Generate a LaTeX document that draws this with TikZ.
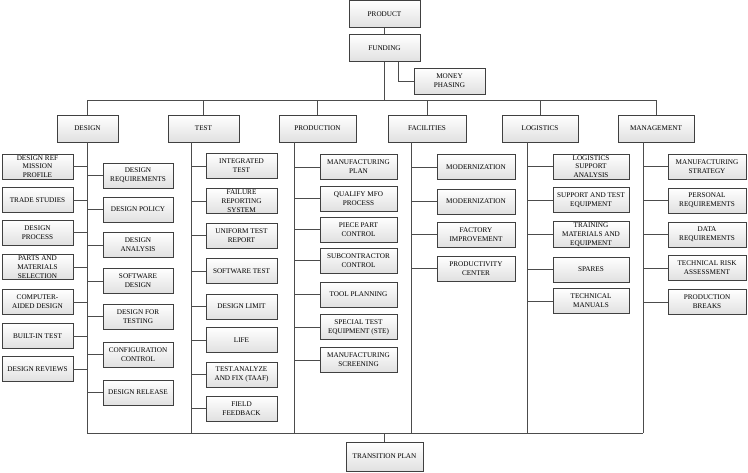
\documentclass[tikz,border=0pt]{standalone}
\usepackage{fontspec}
\setmainfont{Liberation Serif}
\usetikzlibrary{shadows}

\begin{document}
\begin{tikzpicture}[x=1pt, y=-1pt,
  block/.style={rectangle, draw=black!75, line width=0.6pt, top color=white, bottom color=black!12,
    drop shadow={shadow xshift=0.9pt, shadow yshift=-0.9pt, fill=black!40, opacity=0.6},
    minimum width=71pt, minimum height=25pt, inner sep=1pt, align=center,
    font=\fontsize{7.2}{8.8}\selectfont},
  head/.style={block, minimum height=27pt},
  link/.style={draw=black!70, line width=0.9pt}]
  \useasboundingbox (0,0) rectangle (748,472);

    % top of the tree
    \node[head] (prod) at (384.5,14) {PRODUCT};
    \node[head] (fund) at (384.5,48) {FUNDING};
    \node[block, minimum height=26pt] (money) at (449.5,81) {MONEY\\PHASING};

    \coordinate (busL) at (87,100);
    \coordinate (busR) at (656,100);

    % column heads
    \node[head, minimum width=61pt] (design) at (87.5,128.5) {DESIGN};
    \node[head] (test) at (203.5,128.5) {TEST};
    \node[head, minimum width=77pt] (production) at (317.5,128.5) {PRODUCTION};
    \node[head, minimum width=78pt] (facilities) at (427,128.5) {FACILITIES};
    \node[head, minimum width=76pt] (logistics) at (540,128.5) {LOGISTICS};
    \node[head, minimum width=76pt] (management) at (656,128.5) {MANAGEMENT};

    \coordinate (dB) at (87,433);
    \coordinate (tB) at (191,433);
    \coordinate (pB) at (294,433);
    \coordinate (fB) at (411,433);
    \coordinate (lB) at (527,433);
    \coordinate (mB) at (643,433);

    % design
    \node[block] (dref) at (37.5,166.5) {DESIGN REF\\MISSION\\PROFILE};
    \node[block] (trade) at (37.5,200) {TRADE STUDIES};
    \node[block] (dproc) at (37.5,232.5) {DESIGN\\PROCESS};
    \node[block] (parts) at (37.5,267) {PARTS AND\\MATERIALS\\SELECTION};
    \node[block] (cad) at (37.5,302) {COMPUTER-\\AIDED DESIGN};
    \node[block] (bit) at (37.5,336) {BUILT-IN TEST};
    \node[block] (drev) at (37.5,369) {DESIGN REVIEWS};
    \node[block, minimum width=70pt] (dreq) at (138,175.5) {DESIGN\\REQUIREMENTS};
    \node[block, minimum width=70pt] (dpol) at (138,209.5) {DESIGN POLICY};
    \node[block, minimum width=70pt] (dana) at (138,245) {DESIGN\\ANALYSIS};
    \node[block, minimum width=70pt] (swd) at (138,281) {SOFTWARE\\DESIGN};
    \node[block, minimum width=70pt] (dft) at (138,316.5) {DESIGN FOR\\TESTING};
    \node[block, minimum width=70pt] (cfg) at (138,354.5) {CONFIGURATION\\CONTROL};
    \node[block, minimum width=70pt] (drel) at (138,392.5) {DESIGN RELEASE};

    % test
    \node[block] (integ) at (241.5,166) {INTEGRATED\\TEST};
    \node[block] (frs) at (241.5,201) {FAILURE\\REPORTING\\SYSTEM};
    \node[block] (utr) at (241.5,235.5) {UNIFORM TEST\\REPORT};
    \node[block] (swt) at (241.5,271) {SOFTWARE TEST};
    \node[block] (dlim) at (241.5,306.5) {DESIGN LIMIT};
    \node[block] (life) at (241.5,340) {LIFE};
    \node[block] (taaf) at (241.5,374.5) {TEST.ANALYZE\\AND FIX (TAAF)};
    \node[block] (field) at (241.5,408.5) {FIELD\\FEEDBACK};

    % production
    \node[block, minimum width=77pt] (mplan) at (358.5,167) {MANUFACTURING\\PLAN};
    \node[block, minimum width=77pt] (qmfo) at (358.5,198.5) {QUALIFY MFO\\PROCESS};
    \node[block, minimum width=77pt] (ppc) at (358.5,229.5) {PIECE PART\\CONTROL};
    \node[block, minimum width=77pt] (subc) at (358.5,260.5) {SUBCONTRACTOR\\CONTROL};
    \node[block, minimum width=77pt] (tool) at (358.5,294.5) {TOOL PLANNING};
    \node[block, minimum width=77pt] (ste) at (358.5,327) {SPECIAL TEST\\EQUIPMENT (STE)};
    \node[block, minimum width=77pt] (mscr) at (358.5,360) {MANUFACTURING\\SCREENING};

    % facilities
    \node[block, minimum width=78pt] (mod1) at (476,167) {MODERNIZATION};
    \node[block, minimum width=78pt] (mod2) at (476,201.5) {MODERNIZATION};
    \node[block, minimum width=78pt] (factory) at (476,234.5) {FACTORY\\IMPROVEMENT};
    \node[block, minimum width=78pt] (prodc) at (476,268.5) {PRODUCTIVITY\\CENTER};

    % logistics
    \node[block, minimum width=76pt] (lsa) at (591,166.5) {LOGISTICS\\SUPPORT\\ANALYSIS};
    \node[block, minimum width=76pt] (supeq) at (591,200) {SUPPORT AND TEST\\EQUIPMENT};
    \node[block, minimum width=76pt] (train) at (591,234.5) {TRAINING\\MATERIALS AND\\EQUIPMENT};
    \node[block, minimum width=76pt] (spares) at (591,269.5) {SPARES};
    \node[block, minimum width=76pt] (techm) at (591,301) {TECHNICAL\\MANUALS};

    % management
    \node[block, minimum width=78pt] (mstrat) at (707,166.5) {MANUFACTURING\\STRATEGY};
    \node[block, minimum width=78pt] (pers) at (707,200.5) {PERSONAL\\REQUIREMENTS};
    \node[block, minimum width=78pt] (datar) at (707,234.5) {DATA\\REQUIREMENTS};
    \node[block, minimum width=78pt] (risk) at (707,268) {TECHNICAL RISK\\ASSESSMENT};
    \node[block, minimum width=78pt] (pbreaks) at (707,302) {PRODUCTION\\BREAKS};

    \node[head, minimum width=77pt, minimum height=29pt] (trans) at (384.5,456.5) {TRANSITION PLAN};

    % upper connectors
    \draw[link] (prod) -- (fund);
    \draw[link] (fund.south) -- (fund.south |- busL);
    \draw[link] ([xshift=13.5pt]fund.south) |- (money.west);
    \draw[link] (busL) -- (busR);
    \draw[link] (design.north |- busL) -- (design.north);
    \draw[link] (test.north |- busL) -- (test.north);
    \draw[link] (production.north |- busL) -- (production.north);
    \draw[link] (facilities.north |- busL) -- (facilities.north);
    \draw[link] (logistics.north |- busL) -- (logistics.north);
    \draw[link] (management.north |- busL) -- (management.north);

    % trunks and lower bus
    \draw[link] (design.south -| dB) -- (dB);
    \draw[link] (test.south -| tB) -- (tB);
    \draw[link] (production.south -| pB) -- (pB);
    \draw[link] (facilities.south -| fB) -- (fB);
    \draw[link] (logistics.south -| lB) -- (lB);
    \draw[link] (management.south -| mB) -- (mB);
    \draw[link] (dB) -- (mB);
    \draw[link] (trans.north |- dB) -- (trans.north);

    % branches
    \draw[link] (dref.east) -- (dref.east -| dB);
    \draw[link] (trade.east) -- (trade.east -| dB);
    \draw[link] (dproc.east) -- (dproc.east -| dB);
    \draw[link] (parts.east) -- (parts.east -| dB);
    \draw[link] (cad.east) -- (cad.east -| dB);
    \draw[link] (bit.east) -- (bit.east -| dB);
    \draw[link] (drev.east) -- (drev.east -| dB);
    \draw[link] (dreq.west) -- (dreq.west -| dB);
    \draw[link] (dpol.west) -- (dpol.west -| dB);
    \draw[link] (dana.west) -- (dana.west -| dB);
    \draw[link] (swd.west) -- (swd.west -| dB);
    \draw[link] (dft.west) -- (dft.west -| dB);
    \draw[link] (cfg.west) -- (cfg.west -| dB);
    \draw[link] (drel.west) -- (drel.west -| dB);

    \draw[link] (integ.west) -- (integ.west -| tB);
    \draw[link] (frs.west) -- (frs.west -| tB);
    \draw[link] (utr.west) -- (utr.west -| tB);
    \draw[link] (swt.west) -- (swt.west -| tB);
    \draw[link] (dlim.west) -- (dlim.west -| tB);
    \draw[link] (life.west) -- (life.west -| tB);
    \draw[link] (taaf.west) -- (taaf.west -| tB);
    \draw[link] (field.west) -- (field.west -| tB);

    \draw[link] (mplan.west) -- (mplan.west -| pB);
    \draw[link] (qmfo.west) -- (qmfo.west -| pB);
    \draw[link] (ppc.west) -- (ppc.west -| pB);
    \draw[link] (subc.west) -- (subc.west -| pB);
    \draw[link] (tool.west) -- (tool.west -| pB);
    \draw[link] (ste.west) -- (ste.west -| pB);
    \draw[link] (mscr.west) -- (mscr.west -| pB);

    \draw[link] (mod1.west) -- (mod1.west -| fB);
    \draw[link] (mod2.west) -- (mod2.west -| fB);
    \draw[link] (factory.west) -- (factory.west -| fB);
    \draw[link] (prodc.west) -- (prodc.west -| fB);

    \draw[link] (lsa.west) -- (lsa.west -| lB);
    \draw[link] (supeq.west) -- (supeq.west -| lB);
    \draw[link] (train.west) -- (train.west -| lB);
    \draw[link] (spares.west) -- (spares.west -| lB);
    \draw[link] (techm.west) -- (techm.west -| lB);

    \draw[link] (mstrat.west) -- (mstrat.west -| mB);
    \draw[link] (pers.west) -- (pers.west -| mB);
    \draw[link] (datar.west) -- (datar.west -| mB);
    \draw[link] (risk.west) -- (risk.west -| mB);
    \draw[link] (pbreaks.west) -- (pbreaks.west -| mB);

\end{tikzpicture}
\end{document}
